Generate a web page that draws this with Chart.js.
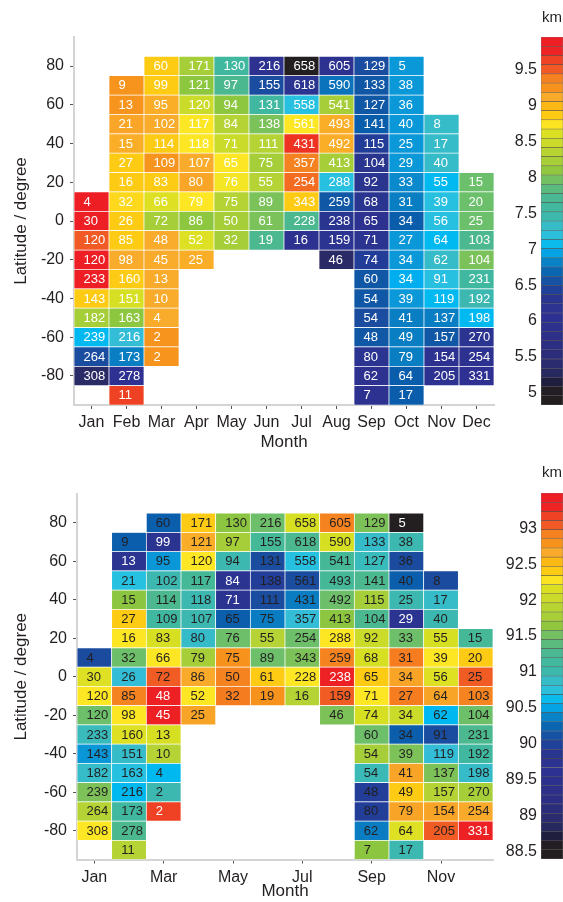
<!DOCTYPE html>
<html>
<head>
<meta charset="utf-8">
<script src="https://cdn.jsdelivr.net/npm/chart.js@4.4.1/dist/chart.umd.min.js"></script>
<style>
  html, body { margin: 0; padding: 0; background: #fff; overflow: hidden; }
  #wrap { position: relative; width: 563px; height: 902px; }
  canvas { position: absolute; }
</style>
</head>
<body>
<div id="wrap">
  <canvas id="mapTop" width="496" height="460" style="left:0;top:0"></canvas>
  <canvas id="barTop" width="68" height="420" style="left:495px;top:0"></canvas>
  <canvas id="mapBottom" width="496" height="445" style="left:0;top:457px"></canvas>
  <canvas id="barBottom" width="68" height="420" style="left:495px;top:457px"></canvas>
</div>
<script>
// --- data ---
const n = null;
const months = ['Jan', 'Feb', 'Mar', 'Apr', 'May', 'Jun', 'Jul', 'Aug', 'Sep', 'Oct', 'Nov', 'Dec'];
const lats = [80, 70, 60, 50, 40, 30, 20, 10, 0, -10, -20, -30, -40, -50, -60, -70, -80, -90];
const latTicks = [-80, -60, -40, -20, 0, 20, 40, 60, 80];

// number of profiles per cell (same for both panels)
const counts = [
  [n, n, 60, 171, 130, 216, 658, 605, 129, 5, n, n],
  [n, 9, 99, 121, 97, 155, 618, 590, 133, 38, n, n],
  [n, 13, 95, 120, 94, 131, 558, 541, 127, 36, n, n],
  [n, 21, 102, 117, 84, 138, 561, 493, 141, 40, 8, n],
  [n, 15, 114, 118, 71, 111, 431, 492, 115, 25, 17, n],
  [n, 27, 109, 107, 65, 75, 357, 413, 104, 29, 40, n],
  [n, 16, 83, 80, 76, 55, 254, 288, 92, 33, 55, 15],
  [4, 32, 66, 79, 75, 89, 343, 259, 68, 31, 39, 20],
  [30, 26, 72, 86, 50, 61, 228, 238, 65, 34, 56, 25],
  [120, 85, 48, 52, 32, 19, 16, 159, 71, 27, 64, 103],
  [120, 98, 45, 25, n, n, n, 46, 74, 34, 62, 104],
  [233, 160, 13, n, n, n, n, n, 60, 34, 91, 231],
  [143, 151, 10, n, n, n, n, n, 54, 39, 119, 192],
  [182, 163, 4, n, n, n, n, n, 54, 41, 137, 198],
  [239, 216, 2, n, n, n, n, n, 48, 49, 157, 270],
  [264, 173, 2, n, n, n, n, n, 80, 79, 154, 254],
  [308, 278, n, n, n, n, n, n, 62, 64, 205, 331],
  [n, 11, n, n, n, n, n, n, 7, 17, n, n]
];

// upper panel, km
const heightTop = [
  [n, n, 8.86, 8.21, 7.56, 6.1, 4.9, 6.1, 6.52, 6.91, n, n],
  [n, 9.25, 8.86, 8.08, 7.75, 6.52, 6.2, 6.75, 6.6, 6.91, n, n],
  [n, 9.25, 9.1, 8.47, 8.08, 7.56, 7.17, 8.21, 6.6, 6.91, n, n],
  [n, 9.15, 9.12, 8.73, 8.34, 8.0, 8.73, 9.1, 6.65, 6.91, 7.32, n],
  [n, 9.1, 8.86, 8.73, 8.47, 8.34, 9.7, 9.1, 6.4, 6.91, 7.32, n],
  [n, 8.86, 9.25, 9.12, 8.73, 8.21, 9.38, 8.21, 6.3, 6.91, 7.32, n],
  [n, 8.86, 8.86, 9.15, 8.7, 8.34, 9.45, 7.17, 6.3, 6.85, 7.04, 7.95],
  [9.85, 8.8, 8.62, 8.73, 8.34, 8.0, 8.86, 6.6, 6.3, 6.8, 7.17, 7.95],
  [9.85, 8.86, 8.21, 8.08, 8.21, 8.0, 7.75, 6.3, 6.1, 6.65, 7.17, 7.95],
  [9.51, 8.86, 9.12, 8.62, 8.21, 7.75, 6.1, 6.25, 6.2, 6.91, 7.04, 7.75],
  [9.85, 9.12, 9.12, 9.1, n, n, n, 5.3, 6.4, 6.91, 7.32, 8.0],
  [9.85, 8.86, 9.12, n, n, n, n, n, 6.6, 6.98, 7.17, 7.56],
  [8.86, 8.6, 9.12, n, n, n, n, n, 6.6, 6.91, 7.04, 7.43],
  [8.21, 8.08, 9.12, n, n, n, n, n, 6.52, 6.8, 6.8, 7.04],
  [7.04, 7.25, 9.25, n, n, n, n, n, 6.6, 6.8, 6.6, 6.2],
  [6.52, 6.8, 9.25, n, n, n, n, n, 6.2, 6.8, 6.1, 6.1],
  [5.3, 6.0, n, n, n, n, n, n, 6.1, 6.65, 6.1, 6.0],
  [n, 9.64, n, n, n, n, n, n, 6.1, 6.65, n, n]
];

// lower panel, km
const heightBottom = [
  [n, n, 90.21, 92.40, 91.62, 91.50, 92.14, 92.91, 91.55, 88.47, n, n],
  [n, 90.21, 89.76, 92.64, 91.75, 91.20, 91.30, 92.14, 90.87, 90.98, n, n],
  [n, 89.81, 90.46, 92.27, 90.98, 90.08, 90.72, 91.20, 90.93, 90.06, n, n],
  [n, 90.72, 90.98, 91.20, 89.76, 89.96, 90.08, 91.20, 91.30, 90.21, 90.06, n],
  [n, 91.62, 91.30, 90.98, 89.76, 90.08, 90.35, 91.50, 91.75, 90.98, 90.87, n],
  [n, 92.40, 91.11, 90.98, 90.21, 90.35, 90.80, 91.62, 91.30, 89.81, 90.98, n],
  [n, 92.27, 92.14, 90.87, 91.50, 91.88, 91.50, 92.27, 92.01, 91.50, 92.14, 91.20],
  [90.06, 91.50, 92.27, 91.75, 92.79, 91.50, 91.55, 92.91, 92.14, 92.93, 92.27, 92.40],
  [92.16, 90.80, 93.04, 92.66, 92.91, 92.40, 92.27, 93.38, 92.40, 92.69, 92.16, 93.04],
  [92.27, 92.91, 93.38, 92.27, 92.93, 92.79, 91.88, 93.04, 92.27, 92.93, 92.69, 92.91],
  [91.50, 92.27, 93.38, 92.69, n, n, n, 91.55, 92.14, 92.01, 90.59, 91.50],
  [90.93, 92.16, 92.14, n, n, n, n, n, 91.50, 90.21, 90.08, 91.30],
  [90.46, 90.87, 91.88, n, n, n, n, n, 91.75, 91.55, 90.80, 91.11],
  [90.87, 90.72, 90.59, n, n, n, n, n, 90.95, 92.69, 91.55, 90.87],
  [91.55, 90.59, 90.98, n, n, n, n, n, 89.96, 92.40, 91.88, 91.75],
  [91.88, 91.11, 93.17, n, n, n, n, n, 89.96, 92.69, 92.69, 92.66],
  [92.27, 91.30, n, n, n, n, n, n, 90.35, 92.16, 93.04, 93.38],
  [n, 91.88, n, n, n, n, n, n, 91.62, 90.98, n, n]
];

const ticksTop = [5, 5.5, 6, 6.5, 7, 7.5, 8, 8.5, 9, 9.5];
const ticksBottom = [88.5, 89, 89.5, 90, 90.5, 91, 91.5, 92, 92.5, 93];
const rangeTop = [4.83, 9.96];
const rangeBottom = [88.40, 93.49];
const nBands = 40;

// --- colour scale (positions given on the upper colour bar) ---
const stopT = [4.83, 5.0, 5.12, 5.3, 5.6, 6.0, 6.3, 6.42, 6.52, 6.65, 6.8, 6.91, 6.98, 7.04, 7.17, 7.25, 7.32, 7.43, 7.56, 7.65,
  7.75, 7.95, 8.0, 8.08, 8.21, 8.34, 8.47, 8.6, 8.73, 8.86, 8.99, 9.12, 9.25, 9.38, 9.51, 9.64, 9.77, 9.96];
const stopC = ['#231f20', '#231f20', '#1d1b36', '#2a2a66', '#2c2e80', '#2e3192', '#2a3590', '#213f99', '#1a4d9f', '#0a5dab',
  '#0a7ec3', '#0a98d8', '#00aeef', '#00b9f0', '#27c0e0', '#33bdd6', '#35bcc8', '#3cb8b0', '#40b8a0', '#45b898',
  '#4cb890', '#6cbf6b', '#7cc25a', '#8dc63f', '#a6ce39', '#b5d334', '#cbdb2a', '#d7df23', '#fde725', '#fdcb14',
  '#fdb913', '#f9ab2b', '#f7941d', '#f58220', '#f15a24', '#ef4123', '#ed2224', '#ed1c24'];

function rgb(h) { return [1, 3, 5].map(i => parseInt(h.slice(i, i + 2), 16)); }

function colorOf(v, range) {
  const f = (v - range[0]) / (range[1] - range[0]);
  const t = stopT[0] + f * (stopT[stopT.length - 1] - stopT[0]);
  let k = 0;
  while (k < stopT.length - 2 && t > stopT[k + 1]) k++;
  const a = rgb(stopC[k]), b = rgb(stopC[k + 1]);
  let w = (t - stopT[k]) / (stopT[k + 1] - stopT[k]);
  w = Math.max(0, Math.min(1, w));
  const c = a.map((x, i) => Math.round(x + (b[i] - x) * w));
  return `rgb(${c[0]},${c[1]},${c[2]})`;
}

const FONT = '"Liberation Sans", Arial, sans-serif';
const INK = '#231f20';

// cell numbers
function cellLabels(textColor) {
  return {
    id: 'cellLabels',
    afterDatasetsDraw(chart) {
      const ctx = chart.ctx;
      const ds = chart.data.datasets[0];
      ctx.save();
      ctx.font = '13px ' + FONT;
      ctx.textBaseline = 'middle';
      ctx.textAlign = 'left';
      chart.getDatasetMeta(0).data.forEach((el, k) => {
        const d = ds.data[k];
        const p = el.getProps(['x', 'y', 'base', 'width'], true);
        ctx.fillStyle = textColor(d.v);
        ctx.fillText(String(d.n), p.x - p.width / 2 + 9.5, (p.y + p.base) / 2 + 0.5);
      });
      ctx.restore();
    }
  };
}

function heatmap(id, values, range, o) {
  const cells = [];
  lats.forEach((lat, i) => months.forEach((m, j) => {
    if (counts[i][j] === null) return;
    cells.push({x: m, y: [lat - 5, lat + 5], v: values[i][j], n: counts[i][j]});
  }));
  const axisGrid = {drawOnChartArea: false, tickLength: 4, tickColor: '#555', offset: false};
  return new Chart(document.getElementById(id), {
    type: 'bar',
    data: {
      labels: months,
      datasets: [{
        data: cells,
        backgroundColor: c => c.raw ? colorOf(c.raw.v, range) : '#fff',
        borderColor: '#fff',
        borderWidth: 0.7,
        borderSkipped: false,
        categoryPercentage: 1,
        barPercentage: 1
      }]
    },
    options: {
      responsive: false,
      animation: false,
      layout: {padding: {top: 37, right: o.padRight, left: 0, bottom: 0}},
      plugins: {legend: {display: false}, tooltip: {enabled: false}},
      scales: {
        x: {
          type: 'category',
          offset: true,
          grid: axisGrid,
          border: {color: '#d4d4d4', width: 2},
          ticks: {
            autoSkip: false, maxRotation: 0, padding: o.xPad,
            color: INK, font: {family: FONT, size: 16},
            callback: (v, i) => (i % o.every === 0 ? months[i] : null)
          },
          title: {display: true, text: 'Month', color: INK, font: {family: FONT, size: 17}, padding: {top: 0, bottom: o.titlePad}},
          afterFit: s => { s.height = o.xHeight; }
        },
        y: {
          type: 'linear',
          min: -95,
          max: 95,
          grid: axisGrid,
          border: {color: '#d4d4d4', width: 2},
          afterBuildTicks: s => { s.ticks = latTicks.map(v => ({value: v})); },
          ticks: {padding: 6, color: INK, font: {family: FONT, size: 16}},
          title: {display: true, text: 'Latitude / degree', color: INK, font: {family: FONT, size: 17}, padding: {top: 11, bottom: 0}},
          afterFit: s => { s.width = o.yWidth; }
        }
      }
    },
    plugins: [cellLabels(o.textColor)]
  });
}

function colorbar(id, range, ticks, o) {
  const w = (range[1] - range[0]) / nBands;
  const bands = [];
  for (let i = 0; i < nBands; i++) bands.push({x: 'km', y: [range[0] + i * w, range[0] + (i + 1) * w]});
  return new Chart(document.getElementById(id), {
    type: 'bar',
    data: {
      labels: ['km'],
      datasets: [{
        data: bands,
        backgroundColor: c => c.raw ? colorOf((c.raw.y[0] + c.raw.y[1]) / 2, range) : '#fff',
        borderColor: 'rgba(35,31,32,0.6)',
        borderWidth: 0.6,
        borderSkipped: false,
        categoryPercentage: 1,
        barPercentage: 1
      }]
    },
    options: {
      responsive: false,
      animation: false,
      layout: {padding: {top: 0, right: 0, left: 0, bottom: o.padBottom}},
      plugins: {
        legend: {display: false},
        tooltip: {enabled: false},
        title: {display: true, text: 'km', fullSize: false, color: INK, font: {family: FONT, size: 15, weight: 'normal'}, padding: {top: o.titleTop, bottom: o.titleBottom}}
      },
      scales: {
        x: {type: 'category', display: false},
        y: {
          type: 'linear',
          min: range[0],
          max: range[1],
          grid: {display: false, drawTicks: false},
          border: {display: false},
          afterBuildTicks: s => { s.ticks = ticks.map(v => ({value: v})); },
          ticks: {padding: 4, color: INK, font: {family: FONT, size: 16}, callback: v => String(v)},
          afterFit: s => { s.width = 46; }
        }
      }
    }
  });
}

heatmap('mapTop', heightTop, rangeTop, {
  padRight: 2, yWidth: 74, xHeight: 55, xPad: 4, titlePad: 7, every: 1,
  textColor: () => '#ffffff'
});
heatmap('mapBottom', heightBottom, rangeBottom, {
  padRight: 3, yWidth: 77, xHeight: 42.5, xPad: 4, titlePad: 0, every: 2,
  textColor: v => (v < 89.85 || v > 93.1 ? '#ffffff' : INK)
});
colorbar('barTop', rangeTop, ticksTop, {padBottom: 15, titleTop: 9, titleBottom: 10});
colorbar('barBottom', rangeBottom, ticksBottom, {padBottom: 18, titleTop: 7, titleBottom: 11});
</script>
</body>
</html>
